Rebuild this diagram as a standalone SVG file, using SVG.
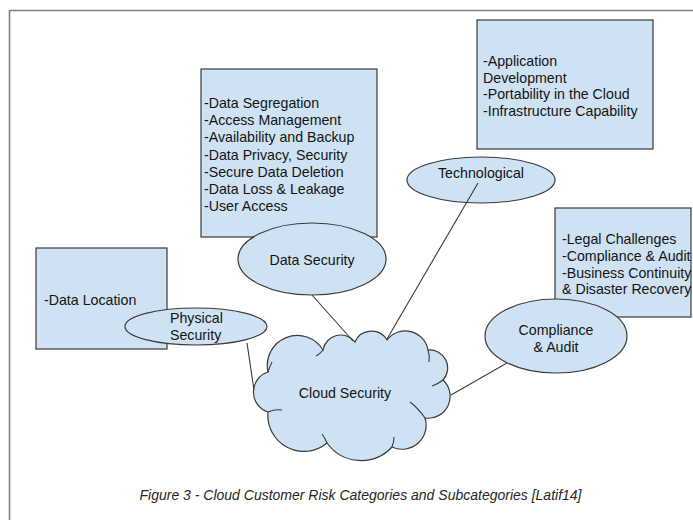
<svg xmlns="http://www.w3.org/2000/svg" width="693" height="520" viewBox="0 0 693 520">
  <style>
    .box { fill: #cfe2f3; stroke: #3a3a3a; stroke-width: 1.2; }
    .oval { fill: #cfe2f3; stroke: #3a3a3a; stroke-width: 1.2; }
    .txt { font-family: "Liberation Sans", Arial, sans-serif; font-size: 14.2px; fill: #141414; }
    .mid { text-anchor: middle; }
    .link { stroke: #3a3a3a; stroke-width: 1.1; fill: none; }
    .cap { font-family: "Liberation Sans", Arial, sans-serif; font-size: 14px; font-style: italic; fill: #262626; text-anchor: middle; }
  </style>
  <rect width="693" height="520" fill="#ffffff"/>
  <!-- page frame -->
  <path d="M9.5 520 V10.5 H693" fill="none" stroke="#7f7f7f" stroke-width="1.6"/>

  <g id="technological">
    <rect class="box" x="477" y="20" width="176" height="129"/>
    <text class="txt" x="483" y="66">-Application</text>
    <text class="txt" x="483" y="82.5">Development</text>
    <text class="txt" x="483" y="99">-Portability in the Cloud</text>
    <text class="txt" x="483" y="115.5">-Infrastructure Capability</text>
    <ellipse class="oval" cx="481" cy="180" rx="74" ry="23"/>
    <text class="txt mid" x="481" y="178">Technological</text>
  </g>

  <g id="data-security">
    <rect class="box" x="201" y="69" width="176" height="168"/>
    <text class="txt" x="204" y="108">-Data Segregation</text>
    <text class="txt" x="204" y="125.2">-Access Management</text>
    <text class="txt" x="204" y="142.4">-Availability and Backup</text>
    <text class="txt" x="204" y="159.6">-Data Privacy, Security</text>
    <text class="txt" x="204" y="176.8">-Secure Data Deletion</text>
    <text class="txt" x="204" y="194">-Data Loss &amp; Leakage</text>
    <text class="txt" x="204" y="211.2">-User Access</text>
    <ellipse class="oval" cx="312" cy="259" rx="74" ry="36"/>
    <text class="txt mid" x="312" y="265">Data Security</text>
  </g>

  <g id="physical-security">
    <rect class="box" x="36" y="248" width="131" height="101"/>
    <text class="txt" x="44" y="305">-Data Location</text>
    <ellipse class="oval" cx="196" cy="326.5" rx="71" ry="18.5"/>
    <text class="txt" x="170" y="323">Physical</text>
    <text class="txt" x="170" y="340">Security</text>
  </g>

  <g id="compliance-audit">
    <rect class="box" x="555" y="208" width="136" height="109"/>
    <text class="txt" x="562" y="244">-Legal Challenges</text>
    <text class="txt" x="562" y="260.8">-Compliance &amp; Audit</text>
    <text class="txt" x="562" y="277.6">-Business Continuity</text>
    <text class="txt" x="562" y="294.4">&amp; Disaster Recovery</text>
    <ellipse class="oval" cx="556" cy="336" rx="71" ry="37"/>
    <text class="txt mid" x="556" y="335">Compliance</text>
    <text class="txt mid" x="556" y="352">&amp; Audit</text>
  </g>

  <g id="cloud-security">
    <path class="oval" d="M268 372 A30 30 0 0 1 323 350 A18 18 0 0 1 355 342 A18 18 0 0 1 387 340 A23 23 0 0 1 428 350 A18 18 0 0 1 443 380 A22 22 0 0 1 425 418 A24 24 0 0 1 392 447 A42 42 0 0 1 327 443 A36 36 0 0 1 268 412 A21 21 0 0 1 268 372 Z"/>
    <!-- inner creases of the cloud outline -->
    <path class="link" d="M323 350 Q320 354 316 356"/>
    <path class="link" d="M428 350 Q430 356 429 362"/>
    <path class="link" d="M443 380 Q438 384 432 386"/>
    <path class="link" d="M425 418 Q418 408 410 402"/>
    <path class="link" d="M392 447 Q394 442 394 437"/>
    <path class="link" d="M327 443 Q325 438 322 434"/>
    <path class="link" d="M268 412 Q275 409 282 410"/>
    <path class="link" d="M268 372 Q270 366 272 362"/>
    <text class="txt mid" x="345" y="398">Cloud Security</text>
  </g>

  <g id="connectors">
    <line class="link" x1="247" y1="343" x2="254" y2="390"/>
    <line class="link" x1="312" y1="295" x2="353" y2="341"/>
    <line class="link" x1="478" y1="183" x2="387" y2="339"/>
    <line class="link" x1="507" y1="363" x2="451" y2="395"/>
  </g>

  <text class="cap" x="360.5" y="500">Figure 3 - Cloud Customer Risk Categories and Subcategories [Latif14]</text>
</svg>
